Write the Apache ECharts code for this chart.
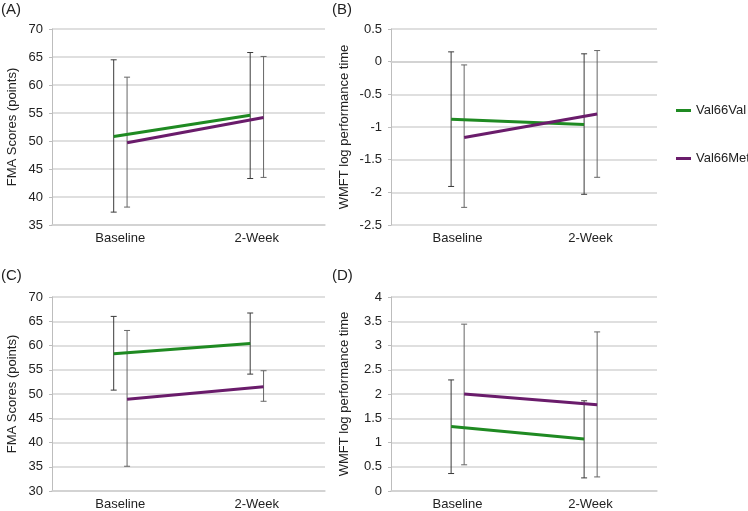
<!DOCTYPE html>
<html>
<head>
<meta charset="utf-8">
<script src="https://cdn.jsdelivr.net/npm/echarts@6/dist/echarts.min.js"></script>
<style>
  html, body { margin: 0; padding: 0; background: #fff; }
  #chart { width: 748px; height: 511px; }
</style>
</head>
<body>
<div id="chart"></div>
<script>
  // categories
  var categories = ['Baseline', '2-Week'];
  var seriesNames = ['Val66Val', 'Val66Met'];

  // (A) FMA, group 1
  var valMeanA = [50.8, 54.6];
  var valLowA  = [37.3, 43.3];
  var valHighA = [64.5, 65.8];
  var metMeanA = [49.7, 54.2];
  var metLowA  = [38.2, 43.5];
  var metHighA = [61.4, 65.1];

  // (B) WMFT, group 1
  var valMeanB = [-0.88, -0.96];
  var valLowB  = [-1.91, -2.03];
  var valHighB = [0.15, 0.12];
  var metMeanB = [-1.16, -0.80];
  var metLowB  = [-2.23, -1.77];
  var metHighB = [-0.05, 0.17];

  // (C) FMA, group 2
  var valMeanC = [58.3, 60.4];
  var valLowC  = [50.8, 54.1];
  var valHighC = [66.0, 66.7];
  var metMeanC = [48.9, 51.5];
  var metLowC  = [35.1, 48.5];
  var metHighC = [63.1, 54.8];

  // (D) WMFT, group 2
  var valMeanD = [1.33, 1.07];
  var valLowD  = [0.36, 0.27];
  var valHighD = [2.29, 1.86];
  var metMeanD = [2.00, 1.78];
  var metLowD  = [0.54, 0.29];
  var metHighD = [3.44, 3.28];

  // y axis ticks per panel
  var yMinList = [35, -2.5, 30, 0];
  var yMaxList = [70, 0.5, 70, 4];
  var yStepList = [5, 0.5, 5, 0.5];
  var yNames = ['FMA Scores (points)', 'WMFT log performance time', 'FMA Scores (points)', 'WMFT log performance time'];
  var panelLabels = ['(A)', '(B)', '(C)', '(D)'];

  var panels = [
    { val: [valMeanA, valLowA, valHighA], met: [metMeanA, metLowA, metHighA] },
    { val: [valMeanB, valLowB, valHighB], met: [metMeanB, metLowB, metHighB] },
    { val: [valMeanC, valLowC, valHighC], met: [metMeanC, metLowC, metHighC] },
    { val: [valMeanD, valLowD, valHighD], met: [metMeanD, metLowD, metHighD] }
  ];

  var green = '#1f8a22';
  var purple = '#6a1c6b';
  var font = 'Liberation Sans, Arial, sans-serif';
  // series are drawn a little left / right of the category centre, like the original
  var offsets = [-0.048, 0.05];

  var gridList = [
    { left: 52, top: 29, width: 273, height: 196 },
    { left: 391, top: 29, width: 266, height: 196 },
    { left: 52, top: 297, width: 273, height: 196 },
    { left: 391, top: 297, width: 266, height: 196 }
  ];
  var nameGaps = [33, 40, 33, 40];

  function renderErr(params, api) {
    var x = api.value(0);
    var lo = api.coord([x, api.value(1)]);
    var hi = api.coord([x, api.value(2)]);
    var cap = 3;
    var style = { stroke: api.visual('color'), lineWidth: 1 };
    return {
      type: 'group',
      children: [
        { type: 'line', shape: { x1: lo[0], y1: lo[1], x2: hi[0], y2: hi[1] }, style: style },
        { type: 'line', shape: { x1: hi[0] - cap, y1: hi[1], x2: hi[0] + cap, y2: hi[1] }, style: style },
        { type: 'line', shape: { x1: lo[0] - cap, y1: lo[1], x2: lo[0] + cap, y2: lo[1] }, style: style }
      ]
    };
  }

  var xAxes = [], yAxes = [], series = [], titles = [];
  gridList.forEach(function (g, i) {
    xAxes.push({
      type: 'value', gridIndex: i, min: 0, max: 2, interval: 0.5,
      splitLine: { show: false },
      axisTick: { show: false },
      axisLine: { show: true, lineStyle: { color: '#cfcfcf', width: 1.5 } },
      axisLabel: {
        color: '#222', fontSize: 13, fontFamily: font, margin: 7,
        formatter: function (v) {
          if (v === 0.5) return categories[0];
          if (v === 1.5) return categories[1];
          return '';
        }
      }
    });
    yAxes.push({
      type: 'value', gridIndex: i,
      min: yMinList[i], max: yMaxList[i], interval: yStepList[i],
      name: yNames[i], nameLocation: 'middle', nameGap: nameGaps[i],
      nameTextStyle: { color: '#222', fontSize: 13, fontFamily: font },
      axisLine: { show: true, lineStyle: { color: '#bdbdbd', width: 1 } },
      axisTick: { show: true, length: 3, lineStyle: { color: '#bdbdbd' } },
      splitLine: { show: true, lineStyle: { color: '#d4d4d4', width: 1.5 } },
      axisLabel: { color: '#222', fontSize: 13, fontFamily: font, margin: 9 }
    });
    titles.push({
      text: panelLabels[i],
      left: i % 2 === 0 ? 1 : 332,
      top: i < 2 ? 2 : 268,
      padding: 0,
      textStyle: { fontSize: 15, fontWeight: 'normal', color: '#222', fontFamily: font }
    });

    var p = panels[i];
    [p.val, p.met].forEach(function (arr, k) {
      var lineData = [], errData = [];
      categories.forEach(function (c, j) {
        var x = j + 0.5 + offsets[k];
        lineData.push([x, arr[0][j]]);
        errData.push([x, arr[1][j], arr[2][j]]);
      });
      series.push({
        type: 'custom', xAxisIndex: i, yAxisIndex: i,
        renderItem: renderErr,
        itemStyle: { color: k === 0 ? '#3a3a3a' : '#666' },
        encode: { x: 0, y: [1, 2] },
        data: errData, z: 1, silent: true
      });
      series.push({
        name: seriesNames[k], type: 'line', xAxisIndex: i, yAxisIndex: i,
        data: lineData, symbol: 'none', z: 3,
        itemStyle: { color: k === 0 ? green : purple },
        lineStyle: { color: k === 0 ? green : purple, width: 3 }
      });
    });
  });

  var chart = echarts.init(document.getElementById('chart'));
  chart.setOption({
    animation: false,
    backgroundColor: '#fff',
    title: titles,
    grid: gridList,
    xAxis: xAxes,
    yAxis: yAxes,
    legend: {
      data: seriesNames,
      orient: 'vertical',
      left: 671, top: 99,
      itemGap: 35,
      itemWidth: 15, itemHeight: 3,
      icon: 'rect',
      textStyle: { color: '#222', fontSize: 13, fontFamily: font }
    },
    series: series
  });
</script>
</body>
</html>
